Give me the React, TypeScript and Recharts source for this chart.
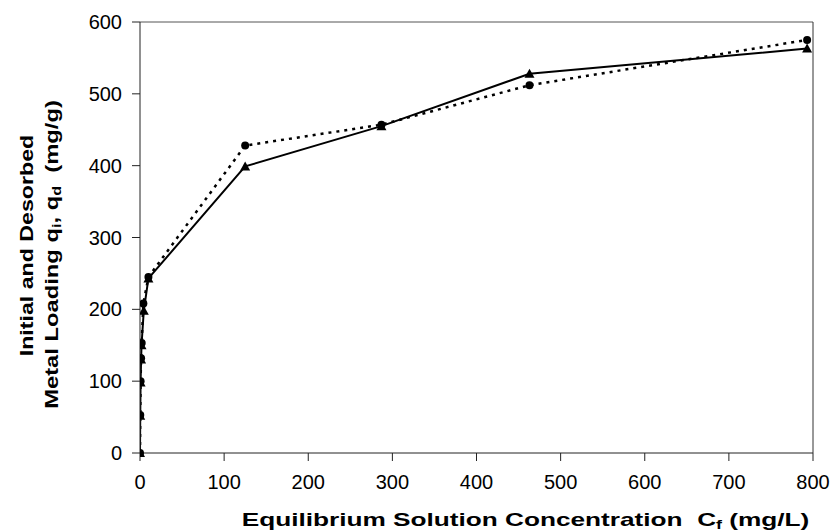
import React from 'react';
import { ComposedChart, Line, XAxis, YAxis, ReferenceLine, Label } from 'recharts';

// solid line, triangles (initial loading q_i)
const initialConc = [0, 0.3, 0.7, 1.3, 1.8, 4.5, 10, 125, 287, 463, 793];
const initialLoading = [0, 52, 98, 130, 150, 198, 243, 399, 455, 528, 563];

// dotted line, circles (desorbed loading q_d)
const desorbedConc = [0, 0.3, 0.7, 1.3, 2, 4, 10, 125, 287, 463, 793];
const desorbedLoading = [0, 53, 100, 132, 153, 208, 245, 428, 457, 512, 575];

const xTicks = [0, 100, 200, 300, 400, 500, 600, 700, 800];
const yTicks = [0, 100, 200, 300, 400, 500, 600];

const initialData = initialConc.map((c, i) => ({ c, q: initialLoading[i] }));
const desorbedData = desorbedConc.map((c, i) => ({ c, q: desorbedLoading[i] }));

const FONT = '"Liberation Sans", Arial, sans-serif';

const TriangleDot = (props: any) => {
  const { cx, cy, index } = props;
  if (cx == null || cy == null) return null;
  const s = 5;
  return (
    <polygon
      key={`tri-${index}`}
      points={`${cx},${cy - s} ${cx - s},${cy + s * 0.8} ${cx + s},${cy + s * 0.8}`}
      fill="#000"
    />
  );
};

const CircleDot = (props: any) => {
  const { cx, cy, index } = props;
  if (cx == null || cy == null) return null;
  return <circle key={`cir-${index}`} cx={cx} cy={cy} r={4} fill="#000" />;
};

// the original lettering is wider than Liberation Sans, so it is stretched along the text
const XTitle = (props: any) => {
  const vb = props.viewBox || {};
  const x = vb.x + vb.width / 2 + 49;
  const y = 526;
  return (
    <g transform={`translate(${x} ${y}) scale(1.38 1)`}>
      <text x={0} y={0} textAnchor="middle" fontFamily={FONT} fontWeight="bold" fontSize={19} fill="#000" style={{ whiteSpace: 'pre' }}>
        Equilibrium Solution Concentration  C
        <tspan fontSize={13} dy={3}>f</tspan>
        <tspan dy={-3}> (mg/L)</tspan>
      </text>
    </g>
  );
};

const YTitle = (props: any) => {
  const vb = props.viewBox || {};
  const mid = vb.y + vb.height / 2;
  return (
    <g fontFamily={FONT} fontWeight="bold" fontSize={19} fill="#000">
      <g transform={`translate(33 ${mid + 8}) rotate(-90) scale(1.22 1)`}>
        <text x={0} y={0} textAnchor="middle">Initial and Desorbed</text>
      </g>
      <g transform={`translate(58 ${mid + 17}) rotate(-90) scale(1.25 1)`}>
        <text x={0} y={0} textAnchor="middle" style={{ whiteSpace: 'pre' }}>
          Metal Loading q
          <tspan fontSize={13} dy={3}>i</tspan>
          <tspan dy={-3}>, q</tspan>
          <tspan fontSize={13} dy={3}>d</tspan>
          <tspan dy={-3}>  (mg/g)</tspan>
        </text>
      </g>
    </g>
  );
};

export default function App() {
  return (
    <div style={{ position: 'absolute', left: 0, top: 0, width: 835, height: 531, background: '#fff' }}>
      <ComposedChart width={835} height={531} margin={{ top: 22, right: 22, bottom: 0, left: 0 }}>
        <XAxis
          dataKey="c"
          type="number"
          domain={[0, 800]}
          ticks={xTicks}
          height={78}
          allowDataOverflow
          tickSize={8}
          tickMargin={14}
          stroke="#222"
          tick={{ fill: '#000', fontSize: 20, fontFamily: FONT }}
        >
          <Label content={XTitle} />
        </XAxis>
        <YAxis
          type="number"
          domain={[0, 600]}
          ticks={yTicks}
          width={140}
          tickSize={8}
          tickMargin={10}
          stroke="#222"
          tick={{ fill: '#000', fontSize: 20, fontFamily: FONT }}
        >
          <Label content={YTitle} />
        </YAxis>
        <ReferenceLine y={600} stroke="#555" strokeWidth={1} />
        <ReferenceLine x={800} stroke="#333" strokeWidth={1} />
        <Line
          data={desorbedData}
          dataKey="q"
          type="linear"
          stroke="#000"
          strokeWidth={2.5}
          strokeDasharray="3 5"
          dot={CircleDot}
          activeDot={false}
          isAnimationActive={false}
        />
        <Line
          data={initialData}
          dataKey="q"
          type="linear"
          stroke="#000"
          strokeWidth={2}
          dot={TriangleDot}
          activeDot={false}
          isAnimationActive={false}
        />
      </ComposedChart>
    </div>
  );
}
